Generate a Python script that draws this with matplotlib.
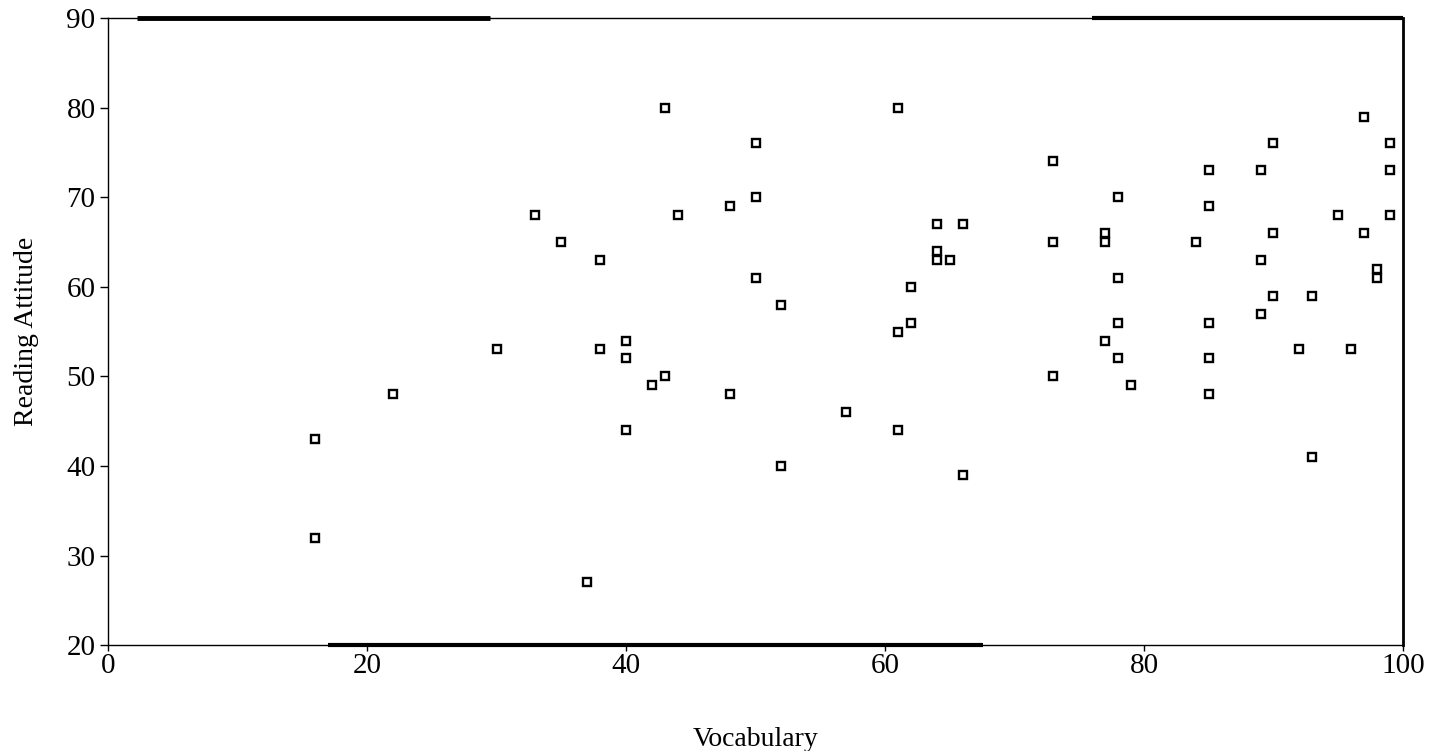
import numpy as np
import matplotlib
matplotlib.use("Agg")
import matplotlib.pyplot as plt

# vocabulary score / reading attitude score
vocabulary = [16, 16, 22, 30, 33, 35, 37, 38, 38, 40, 40, 40, 42, 43, 43, 44, 48, 48,
              50, 50, 50, 52, 52, 57,
              61, 61, 61, 62, 62, 64, 64, 64, 65, 66, 66,
              73, 73, 73, 77, 77, 77, 78, 78, 78, 78, 79,
              84, 85, 85, 85, 85, 85,
              89, 89, 89, 90, 90, 90, 92, 93, 93, 95, 96, 97, 97, 98, 98, 99, 99, 99]
attitude = [43, 32, 48, 53, 68, 65, 27, 63, 53, 54, 52, 44, 49, 80, 50, 68, 69, 48,
            76, 70, 61, 58, 40, 46,
            80, 55, 44, 60, 56, 67, 64, 63, 63, 67, 39,
            74, 65, 50, 66, 65, 54, 70, 61, 56, 52, 49,
            65, 73, 69, 56, 52, 48,
            73, 63, 57, 76, 66, 59, 53, 59, 41, 68, 53, 79, 66, 62, 61, 76, 73, 68]

x_ticks = [0, 20, 40, 60, 80, 100]
y_ticks = [20, 30, 40, 50, 60, 70, 80, 90]

plt.rcParams['font.family'] = ['Liberation Serif', 'DejaVu Serif']

fig = plt.figure(figsize=(14.41, 7.51), dpi=100)
ax = fig.add_axes([0.075, 0.141, 0.8986, 0.835])

ax.plot(vocabulary, attitude, 's', ms=5.8, mfc='white', mec='black', mew=1.7,
        linestyle='none')

ax.set_xlim(0, 100)
ax.set_ylim(20, 90)
ax.set_xticks(x_ticks)
ax.set_yticks(y_ticks)
ax.tick_params(axis='x', direction='out', length=4, width=1, pad=2, labelsize=21)
ax.tick_params(axis='y', direction='out', length=6, width=1, pad=3, labelsize=21)

for s in ax.spines.values():
    s.set_linewidth(1)
ax.spines['right'].set_linewidth(2)

# heavy (smudged) stretches of the frame in the scan
ax.hlines(90, 2.2, 29.5, colors='black', lw=3.5, clip_on=False)
ax.hlines(90, 76.0, 100, colors='black', lw=3, clip_on=False)
ax.hlines(20, 17.0, 67.6, colors='black', lw=3, clip_on=False)

ax.set_xlabel('Vocabulary', fontsize=20)
ax.set_ylabel('Reading Attitude', fontsize=20)
ax.xaxis.set_label_coords(0.5, -0.13)
ax.yaxis.set_label_coords(-0.053, 0.5)

fig.savefig('out.png', dpi=100)
